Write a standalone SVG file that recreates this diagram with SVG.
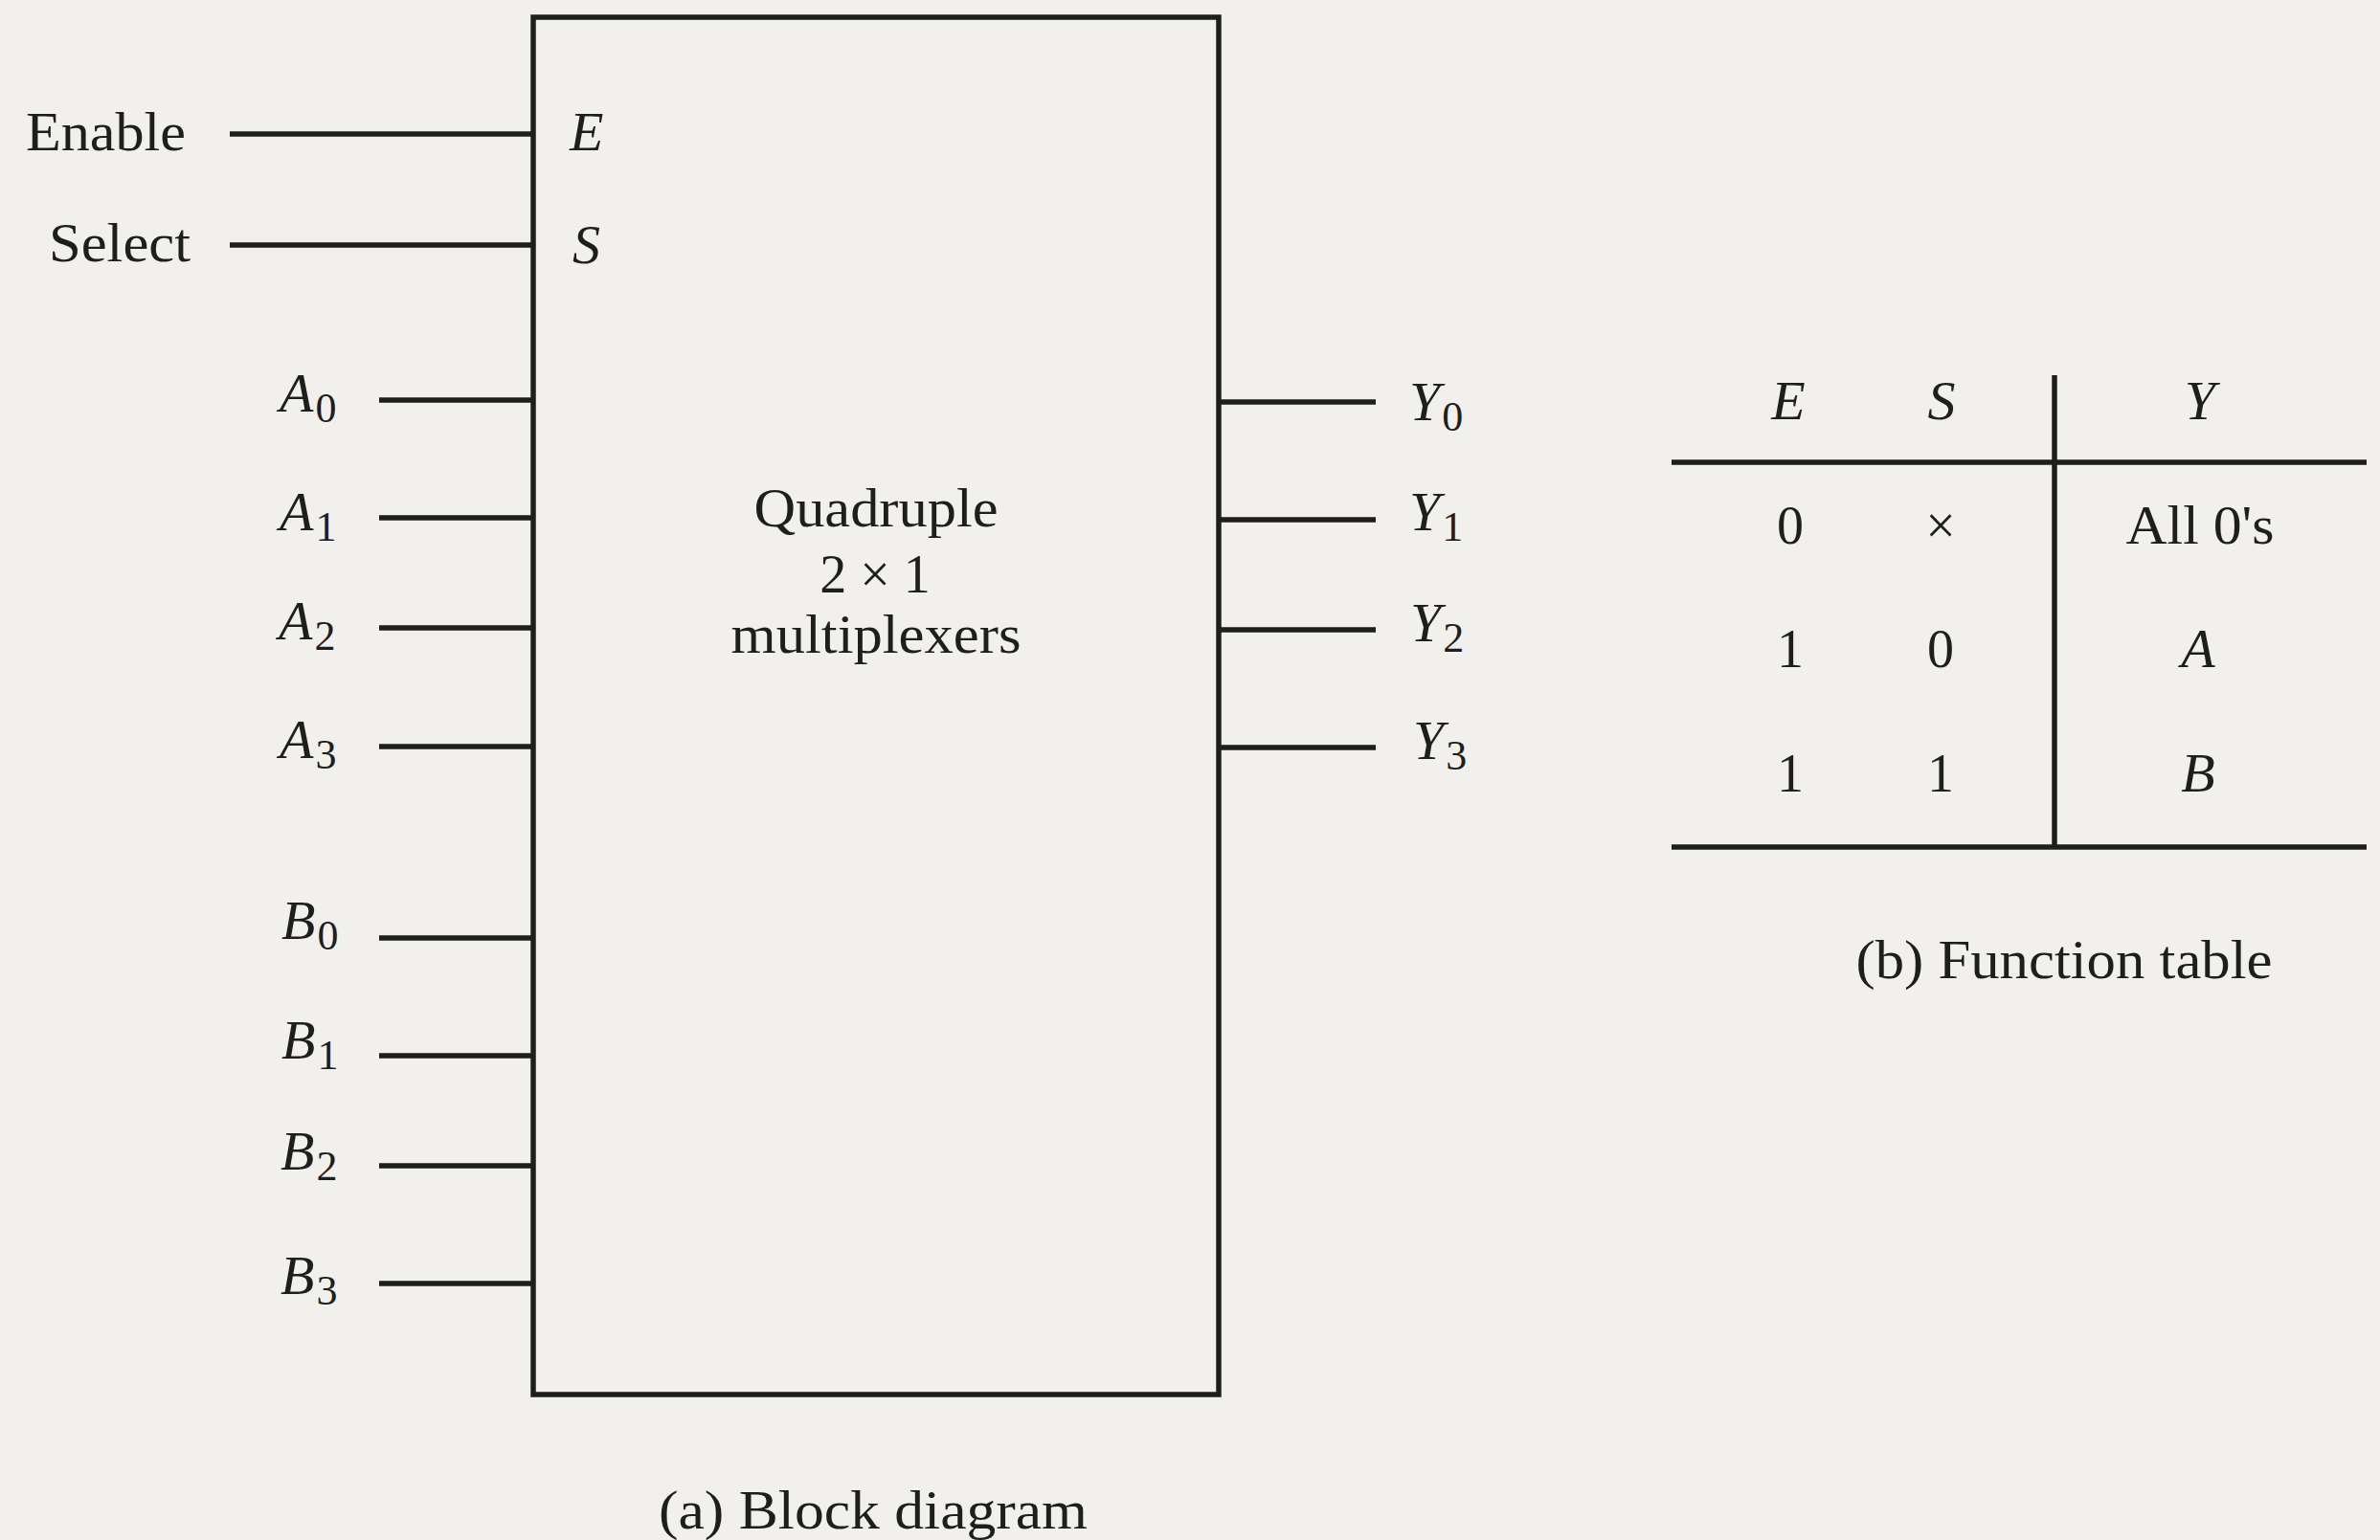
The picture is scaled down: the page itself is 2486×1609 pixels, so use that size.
<svg xmlns="http://www.w3.org/2000/svg" width="2486" height="1609" viewBox="0 0 2486 1609">
  <style>
    text { font-family: "Liberation Serif", "Times New Roman", serif; fill: #1e1e1e; font-size: 56px; }
    .it { font-style: italic; font-size: 58px; }
    .sub { font-size: 44px; font-style: normal; }
    .mid { text-anchor: middle; }
    .wire { stroke: #1e1e1e; stroke-width: 5.5; fill: none; }
    .box { stroke: #1e1e1e; stroke-width: 5.5; fill: none; }
    .rule { stroke: #1e1e1e; stroke-width: 5.5; }
  </style>
  <rect x="0" y="0" width="2486" height="1609" fill="#f2f0ec"/>

  <!-- Block diagram node -->
  <g id="mux">
    <rect class="box" x="557" y="18" width="716" height="1439"/>
    <text class="it" x="595" y="157">E</text>
    <text class="it" x="598" y="275">S</text>
    <text class="mid" x="915" y="550" textLength="255" lengthAdjust="spacingAndGlyphs">Quadruple</text>
    <text class="mid" x="914" y="619">2 × 1</text>
    <text class="mid" x="915" y="682" textLength="303" lengthAdjust="spacingAndGlyphs">multiplexers</text>
  </g>

  <!-- Input labels -->
  <g id="in-enable"><text x="27" y="157" textLength="167" lengthAdjust="spacingAndGlyphs">Enable</text></g>
  <g id="in-select"><text x="51" y="273" textLength="148" lengthAdjust="spacingAndGlyphs">Select</text></g>
  <g id="in-A0"><text class="it" x="292" y="430">A<tspan class="sub" dx="2" dy="11">0</tspan></text></g>
  <g id="in-A1"><text class="it" x="292" y="554">A<tspan class="sub" dx="2" dy="11">1</tspan></text></g>
  <g id="in-A2"><text class="it" x="291" y="668">A<tspan class="sub" dx="2" dy="11">2</tspan></text></g>
  <g id="in-A3"><text class="it" x="292" y="792">A<tspan class="sub" dx="2" dy="11">3</tspan></text></g>
  <g id="in-B0"><text class="it" x="294" y="981">B<tspan class="sub" dx="2" dy="11">0</tspan></text></g>
  <g id="in-B1"><text class="it" x="294" y="1106">B<tspan class="sub" dx="2" dy="11">1</tspan></text></g>
  <g id="in-B2"><text class="it" x="293" y="1222">B<tspan class="sub" dx="2" dy="11">2</tspan></text></g>
  <g id="in-B3"><text class="it" x="293" y="1352">B<tspan class="sub" dx="2" dy="11">3</tspan></text></g>

  <!-- Output labels -->
  <g id="out-Y0"><text class="it" x="1472" y="439">Y<tspan class="sub" dx="2" dy="11">0</tspan></text></g>
  <g id="out-Y1"><text class="it" x="1472" y="554">Y<tspan class="sub" dx="2" dy="11">1</tspan></text></g>
  <g id="out-Y2"><text class="it" x="1473" y="670">Y<tspan class="sub" dx="2" dy="11">2</tspan></text></g>
  <g id="out-Y3"><text class="it" x="1476" y="793">Y<tspan class="sub" dx="2" dy="11">3</tspan></text></g>

  <!-- Connectors -->
  <g id="connectors">
    <line class="wire" x1="240" y1="140" x2="557" y2="140"/>
    <line class="wire" x1="240" y1="256" x2="557" y2="256"/>
    <line class="wire" x1="396" y1="418" x2="557" y2="418"/>
    <line class="wire" x1="396" y1="541" x2="557" y2="541"/>
    <line class="wire" x1="396" y1="656" x2="557" y2="656"/>
    <line class="wire" x1="396" y1="780" x2="557" y2="780"/>
    <line class="wire" x1="396" y1="980" x2="557" y2="980"/>
    <line class="wire" x1="396" y1="1103" x2="557" y2="1103"/>
    <line class="wire" x1="396" y1="1218" x2="557" y2="1218"/>
    <line class="wire" x1="396" y1="1341" x2="557" y2="1341"/>
    <line class="wire" x1="1273" y1="420" x2="1437" y2="420"/>
    <line class="wire" x1="1273" y1="543" x2="1437" y2="543"/>
    <line class="wire" x1="1273" y1="658" x2="1437" y2="658"/>
    <line class="wire" x1="1273" y1="781" x2="1437" y2="781"/>
  </g>

  <!-- Captions -->
  <g id="caption-a"><text class="mid" x="912" y="1597" textLength="448" lengthAdjust="spacingAndGlyphs">(a) Block diagram</text></g>

  <!-- Function table -->
  <g id="function-table">
    <line class="rule" x1="1746" y1="483" x2="2472" y2="483"/>
    <line class="rule" x1="1746" y1="885" x2="2472" y2="885"/>
    <line class="rule" x1="2146" y1="392" x2="2146" y2="885"/>
    <text class="it mid" x="1868" y="438">E</text>
    <text class="it mid" x="2028" y="438">S</text>
    <text class="it mid" x="2298" y="438">Y</text>
    <text class="mid" x="1870" y="568">0</text>
    <text class="mid" x="2027" y="568">×</text>
    <text class="mid" x="2298" y="568" textLength="155" lengthAdjust="spacingAndGlyphs">All 0's</text>
    <text class="mid" x="1870" y="697">1</text>
    <text class="mid" x="2027" y="697">0</text>
    <text class="it mid" x="2296" y="697">A</text>
    <text class="mid" x="1870" y="827">1</text>
    <text class="mid" x="2027" y="827">1</text>
    <text class="it mid" x="2296" y="827">B</text>
  </g>
  <g id="caption-b"><text class="mid" x="2156" y="1022" textLength="435" lengthAdjust="spacingAndGlyphs">(b) Function table</text></g>
</svg>
